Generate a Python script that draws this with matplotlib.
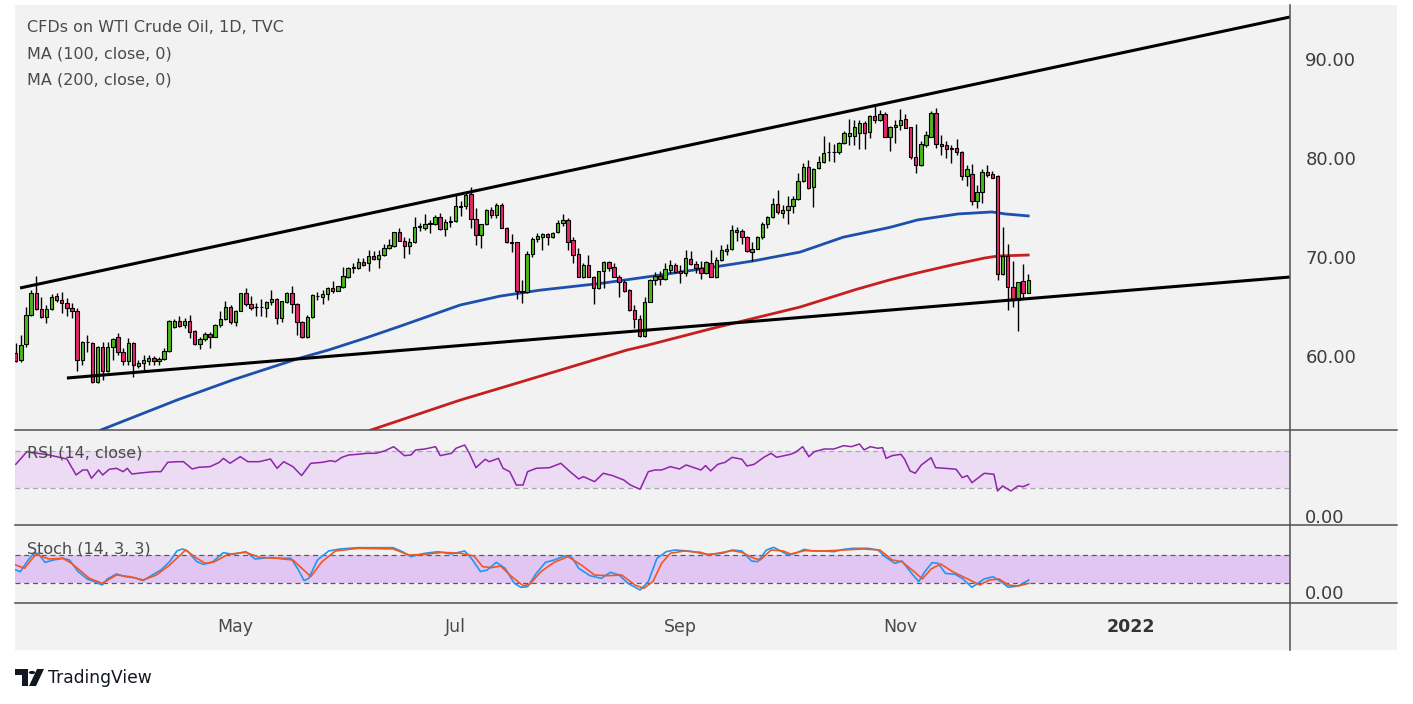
import numpy as np
import pandas as pd
import matplotlib
matplotlib.use("Agg")
import matplotlib.pyplot as plt
from matplotlib.patches import Rectangle, Polygon, Circle
from matplotlib.lines import Line2D

plt.rcParams['font.family'] = ['DejaVu Sans']

# daily candles, WTI CFD, 2 Mar 2021 .. 6 Dec 2021
opens = [
    60.3, 59.6, 61.2, 64.15, 66.35, 64.8, 63.9, 64.7, 66.05, 65.65,
    65.35, 64.9, 64.5, 59.6, 61.45, 61.3, 57.4, 60.95, 58.5, 60.9,
    61.95, 60.45, 59.45, 61.3, 58.95, 59.25, 59.5, 59.85, 59.45, 59.75,
    60.5, 62.9, 63.5, 63.15, 63.55, 62.5, 61.2, 61.7, 62.2, 61.95,
    63.15, 63.7, 65.0, 63.45, 64.55, 66.35, 65.3, 64.95, 64.95, 64.9,
    65.5, 65.8, 63.8, 65.5, 66.35, 65.3, 63.4, 61.95, 63.9, 66.05,
    66.0, 66.25, 66.9, 66.6, 67.0, 68.0, 68.85, 68.9, 69.45, 69.4,
    70.1, 69.75, 70.2, 70.9, 71.15, 72.5, 71.65, 71.1, 71.5, 73.05,
    72.95, 73.3, 73.3, 74.0, 72.8, 73.5, 73.6, 75.1, 75.15, 76.35,
    73.8, 72.2, 73.35, 74.75, 74.25, 75.25, 72.95, 71.5, 71.5, 66.6,
    66.5, 70.3, 71.8, 72.05, 72.35, 72.0, 72.5, 73.4, 73.75, 71.7,
    70.35, 68.0, 69.15, 68.0, 66.9, 68.6, 69.45, 68.95, 68.0, 67.5,
    66.65, 64.6, 63.7, 62.0, 65.5, 67.7, 68.1, 67.8, 68.7, 69.2,
    68.6, 68.35, 69.8, 69.25, 68.85, 68.35, 69.4, 68.0, 69.7, 70.65,
    70.8, 72.7, 72.6, 72.0, 70.5, 70.85, 72.0, 73.3, 74.0, 75.4,
    74.4, 74.7, 75.15, 75.85, 77.65, 79.1, 77.05, 78.95, 79.55, 80.6,
    80.65, 80.6, 81.5, 82.25, 82.25, 82.5, 83.5, 82.6, 84.25, 83.85,
    84.4, 82.15, 83.1, 83.3, 83.9, 83.1, 80.15, 79.3, 81.3, 82.15,
    84.5, 81.4, 81.3, 81.0, 81.0, 80.65, 78.2, 78.4, 75.7, 76.55,
    78.6, 78.35, 78.2, 68.25, 70.15, 67.0, 65.65, 67.55, 66.4]
highs = [
    61.3, 62.1, 65.0, 66.7, 68.1, 66.0, 65.2, 66.25, 66.35, 66.45,
    65.85, 65.4, 64.9, 61.5, 62.15, 61.45, 61.0, 61.45, 61.45, 61.85,
    62.3, 60.8, 61.8, 61.45, 59.6, 60.1, 60.1, 60.05, 59.95, 60.8,
    63.65, 63.75, 64.0, 63.8, 64.1, 62.6, 61.95, 62.45, 62.45, 63.2,
    64.55, 65.55, 65.15, 64.65, 66.4, 66.9, 66.1, 65.4, 65.8, 65.55,
    66.65, 65.85, 65.6, 66.5, 67.05, 65.4, 63.5, 64.15, 66.25, 66.5,
    66.65, 67.0, 67.55, 67.1, 69.0, 69.0, 69.35, 69.85, 69.95, 70.7,
    70.65, 70.7, 71.3, 71.8, 72.5, 72.95, 72.05, 71.9, 74.0, 73.45,
    74.35, 73.75, 74.25, 74.4, 73.8, 74.1, 76.25, 75.7, 76.45, 77.1,
    74.9, 73.35, 74.8, 75.1, 75.5, 75.5, 73.05, 72.35, 71.55, 67.7,
    70.65, 72.05, 72.4, 72.45, 72.4, 72.5, 73.75, 74.35, 73.9, 72.0,
    70.9, 69.35, 70.25, 68.1, 68.6, 69.55, 69.6, 69.35, 68.2, 67.7,
    66.75, 65.15, 64.15, 66.0, 67.75, 68.5, 68.6, 69.35, 69.7, 69.35,
    69.2, 70.7, 70.65, 69.55, 69.55, 69.6, 70.7, 70.05, 71.2, 71.3,
    73.25, 73.05, 72.85, 72.1, 71.5, 72.1, 73.55, 74.15, 76.0, 76.75,
    75.25, 76.15, 76.2, 78.45, 79.45, 79.8, 78.95, 80.2, 82.2, 81.65,
    81.4, 81.65, 82.7, 83.95, 83.85, 83.85, 83.75, 84.35, 85.35, 84.85,
    84.6, 83.25, 83.85, 84.9, 84.45, 83.15, 83.45, 81.75, 82.75, 84.7,
    85.0, 82.3, 81.75, 81.3, 81.9, 80.75, 79.3, 79.4, 77.25, 78.9,
    79.3, 78.7, 78.3, 73.05, 71.3, 69.6, 67.45, 69.3, 68.3]
lows = [
    59.4, 59.4, 60.95, 64.0, 64.65, 63.8, 63.3, 64.65, 65.5, 64.3,
    64.0, 63.8, 58.5, 59.1, 60.45, 57.3, 57.3, 57.6, 58.4, 59.6,
    60.1, 59.1, 59.1, 57.85, 58.75, 58.5, 59.1, 59.1, 59.1, 59.6,
    60.45, 62.8, 62.95, 62.8, 61.8, 61.1, 60.75, 61.5, 60.85, 61.9,
    62.95, 63.6, 63.2, 63.05, 64.5, 65.1, 64.65, 64.05, 64.05, 63.95,
    65.15, 63.25, 63.45, 65.4, 64.3, 62.1, 61.85, 61.8, 63.8, 65.65,
    65.3, 65.65, 66.35, 66.55, 66.9, 67.9, 68.35, 68.8, 69.1, 68.6,
    69.65, 68.85, 70.1, 70.8, 71.0, 71.6, 69.95, 70.35, 71.4, 72.65,
    72.75, 72.45, 73.25, 72.75, 72.15, 73.05, 73.55, 74.1, 74.8, 72.9,
    71.2, 70.95, 73.25, 73.9, 73.9, 72.9, 71.45, 70.55, 65.75, 65.4,
    66.4, 70.05, 71.55, 70.7, 71.2, 71.9, 72.45, 73.15, 70.7, 69.35,
    67.95, 67.85, 67.95, 65.3, 66.75, 66.85, 68.6, 67.95, 65.95, 66.5,
    64.5, 62.8, 61.95, 61.9, 65.45, 67.15, 67.15, 67.7, 68.4, 68.35,
    67.35, 68.1, 69.2, 68.35, 67.8, 68.3, 67.95, 67.85, 69.6, 70.2,
    70.7, 71.6, 71.3, 70.55, 69.55, 70.8, 71.8, 72.95, 73.9, 74.35,
    73.9, 73.3, 74.4, 75.75, 77.6, 76.85, 75.1, 78.9, 79.45, 79.7,
    79.55, 80.45, 81.4, 81.3, 81.3, 80.95, 80.9, 82.0, 83.5, 83.75,
    82.1, 80.75, 81.55, 82.85, 83.0, 79.85, 78.45, 79.15, 81.15, 82.1,
    81.0, 80.3, 80.0, 79.45, 80.3, 77.8, 77.15, 75.25, 74.9, 75.5,
    78.05, 77.95, 67.7, 68.2, 64.6, 65.0, 62.55, 65.75, 66.35]
closes = [
    59.5, 61.1, 64.15, 66.35, 64.7, 63.9, 64.7, 65.95, 65.65, 65.35,
    64.9, 64.5, 59.6, 61.45, 61.4, 57.4, 60.95, 58.5, 60.95, 61.7,
    60.45, 59.45, 61.3, 59.1, 59.25, 59.6, 59.85, 59.45, 59.7, 60.5,
    63.5, 63.5, 63.05, 63.55, 62.45, 61.2, 61.7, 62.2, 61.95, 63.15,
    63.7, 65.0, 63.45, 64.55, 66.35, 65.25, 64.9, 65.0, 65.0, 65.5,
    65.8, 63.8, 65.55, 66.35, 65.3, 63.4, 61.95, 63.9, 66.15, 66.1,
    66.25, 66.9, 66.6, 67.05, 68.1, 68.9, 68.95, 69.45, 69.2, 70.1,
    69.75, 70.2, 70.9, 71.2, 72.5, 71.65, 71.1, 71.5, 73.05, 73.1,
    73.3, 73.45, 74.0, 72.8, 73.5, 73.65, 75.15, 75.15, 76.25, 73.8,
    72.2, 73.35, 74.75, 74.25, 75.25, 72.95, 71.5, 71.45, 66.6, 66.45,
    70.3, 71.8, 72.1, 72.35, 72.0, 72.45, 73.4, 73.75, 71.55, 70.25,
    68.0, 69.2, 68.0, 66.9, 68.6, 69.45, 68.9, 68.0, 67.45, 66.6,
    64.6, 63.7, 62.0, 65.5, 67.7, 68.1, 67.8, 68.75, 69.2, 68.5,
    68.35, 69.85, 69.25, 68.85, 68.35, 69.45, 68.0, 69.7, 70.7, 70.8,
    72.7, 72.5, 72.0, 70.6, 70.85, 72.0, 73.3, 74.0, 75.4, 74.5,
    74.7, 75.15, 75.85, 77.65, 79.1, 76.95, 78.85, 79.55, 80.55, 80.65,
    80.6, 81.5, 82.5, 82.5, 83.1, 83.5, 82.55, 84.25, 83.85, 84.4,
    82.15, 83.1, 83.35, 83.85, 83.05, 80.15, 79.3, 81.4, 82.3, 84.5,
    81.4, 81.25, 80.9, 80.9, 80.65, 78.2, 78.85, 75.7, 76.55, 78.6,
    78.3, 78.0, 68.25, 70.15, 67.0, 65.65, 67.45, 66.4, 67.7]

# moving averages, sampled along the drawn lines (bar number, price)
ma100_bar = [16.5, 31.5, 42.5, 55.6, 61.1, 68.3, 75.1, 86.9, 94.7, 102.5, 114.6,
             125.0, 136.7, 144.2, 153.4, 161.8, 171.0, 176.4, 184.3, 190.9, 193.5, 198]
ma100 = [52.5, 55.55, 57.6, 59.8, 60.6, 61.8, 63.0, 65.15, 66.05, 66.65, 67.35,
         68.1, 69.0, 69.6, 70.5, 72.0, 73.0, 73.75, 74.35, 74.55, 74.35, 74.15]
ma200_bar = [69.3, 86.9, 94.7, 119.5, 123.6, 136.7, 153.4, 164.5, 171.0, 176.4,
             183.1, 189.5, 192.1, 198]
ma200 = [52.5, 55.55, 56.75, 60.6, 61.1, 62.85, 64.95, 66.75, 67.7, 68.4,
         69.2, 69.9, 70.1, 70.2]

# channel lines (bar number, price)
upper_bar = [0.84, 249.2]
upper_px = [66.87, 94.24]
lower_bar = [10.0, 249.2]
lower_px = [57.78, 67.98]

# RSI(14)
rsi_bar = [0, 2.2, 4.4, 6.5, 10, 11.8, 13.1, 14, 14.8, 16.2,
           17, 18.3, 19.7, 21, 21.8, 22.7, 24.9, 27.1, 28.4, 29.7,
           31.5, 32.8, 34.5, 35.8, 38, 39.8, 40.6, 41.9, 43.9, 45.4,
           47.6, 49.8, 51.1, 52.4, 54.2, 55.9, 57.7, 59.9, 61.6, 62.5,
           63.8, 65.1, 66.9, 68.6, 70.4, 72.1, 73.9, 74.7, 76, 77.3,
           78.2, 80, 82.1, 83, 85.2, 86.1, 87.8, 88.7, 90, 91.8,
           92.6, 94.4, 95.3, 96.6, 97.9, 99.2, 100.1, 101.8, 104.4, 106.6,
           108.4, 110.1, 111, 113.2, 114.9, 116.7, 118.9, 120.2, 122.1, 123.7,
           125, 126.3, 128, 129.8, 131.1, 134, 134.9, 135.9, 137.3, 138.7,
           140.1, 142, 143, 144.4, 146.3, 147.7, 148.8, 151.5, 152.5, 153.9,
           155.1, 156.2, 158.1, 160, 161.9, 163.4, 165, 165.9, 167.1, 168.6,
           169.5, 170.2, 171.4, 173.1, 173.8, 174.9, 175.9, 177.1, 179, 179.9,
           181.8, 183.9, 185.1, 186.1, 187, 189.4, 191.3, 192, 193, 194.6,
           196, 197, 198.1]
rsi = [55.7, 69.3, 67.5, 65.7, 61.4, 44.3, 49.6, 49.6, 40.7, 49.6,
       44.3, 50.4, 51.4, 47.8, 51.4, 45.3, 46.7, 47.8, 47.8, 57.8,
       58.5, 58.5, 50.7, 52.5, 53.2, 57.8, 62.1, 56.8, 63.9, 58.5,
       58.5, 61.4, 51.4, 58.5, 53.2, 43.6, 56.8, 57.8, 59.6, 58.5,
       63.2, 65.7, 66.4, 67.5, 67.5, 70, 74.6, 71.1, 65, 65.7,
       71.1, 72.1, 74.6, 65, 67.5, 72.9, 76.4, 67.5, 52.1, 61.1,
       58.5, 62.1, 51.4, 47.8, 33.5, 33.5, 47.8, 51.4, 52.1, 56.8,
       47.8, 40, 42.5, 37.1, 46.1, 43.6, 38.9, 33.5, 28.9, 47.8,
       49.6, 49.6, 53.2, 50.7, 55, 49.6, 54.3, 48.6, 55.7, 57.8,
       63.2, 61.1, 53.9, 55.7, 63.2, 67.5, 63.2, 66.4, 68.6, 74.6,
       63.9, 69.3, 72.1, 72.1, 75.7, 74.6, 77.5, 71.1, 74.6, 72.9,
       73.6, 62.1, 65, 66.4, 61.4, 48.6, 46.1, 55, 62.8, 52.1,
       51.4, 50.4, 41.4, 43.6, 36, 46.1, 45, 27.1, 32.5, 27.1,
       32.5, 31.7, 34.3]

# Stochastic (14, 3, 3): %K and %D
k_bar = [0, 0.9, 2.2, 3.5, 4.4, 5.7, 7.4, 9.2, 10.5, 12.2,
         14, 15.7, 16.9, 17.9, 19.7, 21.4, 23.2, 24.9, 26.7, 28.4,
         30.1, 31.5, 32.6, 33.6, 35.4, 36.7, 38.4, 40.6, 42.4, 45,
         46.8, 49.4, 52, 53.8, 55.1, 56.4, 57.3, 59, 61.2, 63.4,
         66.9, 70.4, 73.8, 75.6, 77.3, 80, 82.6, 85.2, 87.8, 89.1,
         90.9, 92.2, 94, 95.7, 97.5, 98.8, 100.1, 101.8, 103.6, 105.3,
         107.5, 108.8, 110.1, 112.3, 114.5, 116.3, 118, 119.7, 122.1, 123.7,
         125.4, 127.2, 128.9, 131.6, 134, 135.4, 138.2, 140.1, 142, 143.9,
         145.1, 146.8, 148.2, 149.6, 151, 152.5, 154.2, 155.8, 158.1, 160,
         161.9, 163.8, 166.7, 168.6, 170, 171.9, 173.3, 175.2, 176.6, 177.8,
         179.2, 180.4, 181.8, 183.7, 185.1, 187, 189.4, 191.1, 192.7, 194.1,
         196, 198.1]
stoch_k = [47.9, 44.3, 65.7, 83.6, 83.6, 64.3, 69.3, 72.9, 69.3, 44.3,
           28.6, 21.4, 15.7, 28.6, 39.3, 33.6, 31.4, 25, 37.1, 47.9,
           65.7, 88.6, 92.9, 88.6, 65.7, 60, 64.3, 85, 81.4, 87.1,
           71.4, 74.3, 72.9, 72.9, 51.4, 25, 30, 69.3, 88.6, 92.9,
           95.7, 95.7, 95.7, 87.1, 76.4, 83.6, 87.1, 82.1, 88.6, 72.9,
           44.3, 47.9, 64.3, 51.4, 19.3, 10.7, 12.1, 40.7, 64.3, 69.3,
           78.6, 74.3, 51.4, 35.7, 30, 42.9, 37.1, 19.3, 5, 22.9,
           72.9, 87.1, 90.7, 88.6, 83.6, 81.4, 83.6, 90.7, 88.6, 67.1,
           65.7, 90.7, 96.4, 88.6, 80, 83.6, 92.1, 88.6, 88.6, 87.1,
           92.1, 94.3, 94.3, 90.7, 76.4, 62.1, 67.1, 40.7, 22.9, 44.3,
           63.6, 62.1, 40.7, 38.6, 30, 10.7, 28.6, 33.6, 22.9, 10.7,
           13.6, 26.4]
d_bar = [0, 1.7, 3.9, 6.5, 9.2, 10.9, 14.4, 16.9, 19.7, 22.3,
         24.9, 27.5, 30.1, 33.2, 35.4, 37.1, 38.9, 41.5, 45, 47.6,
         51.1, 54.2, 57.7, 59.9, 62.5, 66.9, 73.8, 76.9, 80, 83.5,
         87, 89.6, 91.3, 93.1, 94.8, 97, 99.2, 100.5, 102.7, 105.3,
         108, 110.6, 113.2, 115.8, 118.5, 121.1, 122.8, 124.6, 126.3, 128,
         130.7, 134, 135.4, 140.1, 142, 144.4, 145.6, 147.7, 150.1, 151.5,
         154.3, 158.1, 161.9, 165.7, 169, 171.4, 173.3, 175.7, 177.3, 179,
         180.9, 183.2, 186.6, 188.5, 190.4, 192.3, 194.1, 196, 198.1]
stoch_d = [58.6, 51.4, 81.4, 71.4, 72.9, 62.1, 30, 19.3, 37.1, 33.6,
           26.4, 37.1, 58.6, 90.7, 72.9, 62.1, 65.7, 81.4, 85.7, 75,
           72.9, 69.3, 33.6, 65.7, 88.6, 94.3, 92.9, 80, 81.4, 85.7,
           83.6, 77.9, 55, 52.9, 56.4, 33.6, 14.3, 17.1, 44.3, 64.3,
           76.4, 58.6, 37.1, 35.7, 37.1, 15.7, 8.6, 22.9, 62.1, 83.6,
           88.6, 85.7, 80, 89.3, 85.7, 72.9, 69.3, 90.7, 88.6, 82.1,
           89.3, 88.6, 90.7, 92.9, 90.7, 69.3, 65.7, 44.3, 28.6, 50,
           60.7, 44.3, 26.4, 15.7, 26.4, 28.6, 15.7, 13.6, 19.3]

# trading calendar used by the chart (Good Friday closed)
dates = pd.bdate_range("2021-03-02", "2022-02-28")
dates = dates[dates != pd.Timestamp("2021-04-02")]
month_labels = {(2021, 5): "May", (2021, 7): "Jul", (2021, 9): "Sep",
                (2021, 11): "Nov", (2022, 1): "2022"}

BG = "#f2f2f2"
GREEN = "#4cb81c"
RED = "#e5286a"
TXT = "#4a4a4a"

W, H = 1413, 704
fig = plt.figure(figsize=(W / 100, H / 100), dpi=100)
fig.patch.set_facecolor("white")


def fx(px):
    return px / W


def fy(py):
    return 1 - py / H


fig.patches.append(Rectangle((fx(15), fy(650)), fx(1397) - fx(15), fy(5) - fy(650),
                             transform=fig.transFigure, facecolor=BG,
                             edgecolor="none", zorder=-5))

left, right = fx(15), fx(1290)
ax_p = fig.add_axes([left, fy(430), right - left, fy(5) - fy(430)])
ax_r = fig.add_axes([left, fy(525), right - left, fy(430) - fy(525)])
ax_s = fig.add_axes([left, fy(603), right - left, fy(525) - fy(603)])

XMIN, XMAX = -0.15, 249.2
for ax in (ax_p, ax_r, ax_s):
    ax.set_facecolor("none")
    for sp in ax.spines.values():
        sp.set_visible(False)
    ax.set_xlim(XMIN, XMAX)
    ax.yaxis.tick_right()
    ax.tick_params(axis="y", length=0, pad=11, labelsize=13, labelcolor="#3d3d3d")
    ax.tick_params(axis="x", length=0)

# ---- price panel ----
o = np.array(opens)
c = np.array(closes)
x = np.arange(len(c))
up = c >= o
ax_p.vlines(x, lows, highs, color="black", lw=1.0, zorder=2)
ax_p.bar(x, np.maximum(np.abs(c - o), 0.02), bottom=np.minimum(o, c), width=0.66,
         color=np.where(up, GREEN, RED), edgecolor="black", linewidth=0.8, zorder=3)
ax_p.plot(ma100_bar, ma100, color="#1d50ac", lw=2.0, zorder=1.5)
ax_p.plot(ma200_bar, ma200, color="#c5201f", lw=2.0, zorder=1.5)
ax_p.plot(upper_bar, upper_px, color="black", lw=2.2, zorder=4, solid_capstyle="butt")
ax_p.plot(lower_bar, lower_px, color="black", lw=2.2, zorder=4, solid_capstyle="butt")
ax_p.set_ylim(52.53, 95.45)
ax_p.set_yticks([60, 70, 80, 90])
ax_p.set_yticklabels(["%.2f" % v for v in [60, 70, 80, 90]])
ax_p.set_xticks([])

# ---- RSI panel ----
ax_r.axhspan(30, 70, color="#ebdcf3", lw=0, zorder=0)
for lvl in (70, 30):
    ax_r.axhline(lvl, color="#a9a9a9", lw=0.9, ls=(0, (4, 3)), zorder=1)
ax_r.plot(rsi_bar, rsi, color="#8e24aa", lw=1.1, zorder=2)
ax_r.set_ylim(-9.4, 92.5)
ax_r.set_yticks([0])
ax_r.set_yticklabels(["0.00"])
ax_r.set_xticks([])

# ---- Stochastic panel ----
ax_s.axhspan(20, 80, color="#e1c6f4", lw=0, zorder=0)
for lvl in (80, 20):
    ax_s.axhline(lvl, color="#5a5a5a", lw=0.9, ls=(0, (4, 3)), zorder=1)
ax_s.plot(k_bar, stoch_k, color="#2196f3", lw=1.2, zorder=2)
ax_s.plot(d_bar, stoch_d, color="#f4561f", lw=1.2, zorder=3)
ax_s.set_ylim(-22.9, 144.3)
ax_s.set_yticks([0])
ax_s.set_yticklabels(["0.00"])

pos = pd.Series(np.arange(len(dates)), index=dates)
first_bar = pos.groupby([dates.year, dates.month]).min()
ticks = [first_bar[k] for k in month_labels]
ax_s.set_xticks(ticks)
ax_s.set_xticklabels(list(month_labels.values()))
ax_s.tick_params(axis="x", pad=11, labelsize=12.5, labelcolor=TXT)
ax_s.get_xticklabels()[-1].set_fontweight("bold")
ax_s.get_xticklabels()[-1].set_color("#333333")

# ---- separators ----
for yy in (430, 525, 603):
    fig.add_artist(Line2D([fx(15), fx(1397)], [fy(yy), fy(yy)], color="#505050", lw=1.1))
fig.add_artist(Line2D([fx(1290), fx(1290)], [fy(5), fy(650)], color="#505050", lw=1.1))

# ---- legends ----
for yy, s in ((28, "CFDs on WTI Crude Oil, 1D, TVC"), (54, "MA (100, close, 0)"),
              (80, "MA (200, close, 0)"), (453, "RSI (14, close)"), (549, "Stoch (14, 3, 3)")):
    fig.text(fx(27), fy(yy), s, fontsize=11.5, color=TXT, va="center", ha="left")

# ---- TradingView mark ----
fig.patches.append(Polygon([(fx(15), fy(669)), (fx(28), fy(669)), (fx(28), fy(686)),
                            (fx(22), fy(686)), (fx(22), fy(675)), (fx(15), fy(675))],
                           closed=True, transform=fig.transFigure, facecolor="#131722"))
fig.patches.append(Circle((fx(32), fy(672.5)), 3.2 / W, transform=fig.transFigure,
                          facecolor="#131722"))
fig.patches.append(Polygon([(fx(37), fy(669)), (fx(44), fy(669)), (fx(36), fy(686)),
                            (fx(29), fy(686))],
                           closed=True, transform=fig.transFigure, facecolor="#131722"))
fig.text(fx(48), fy(678), "TradingView", fontsize=12.3, color="#131722", va="center", ha="left")

fig.savefig("out.png", dpi=100, facecolor="white")
